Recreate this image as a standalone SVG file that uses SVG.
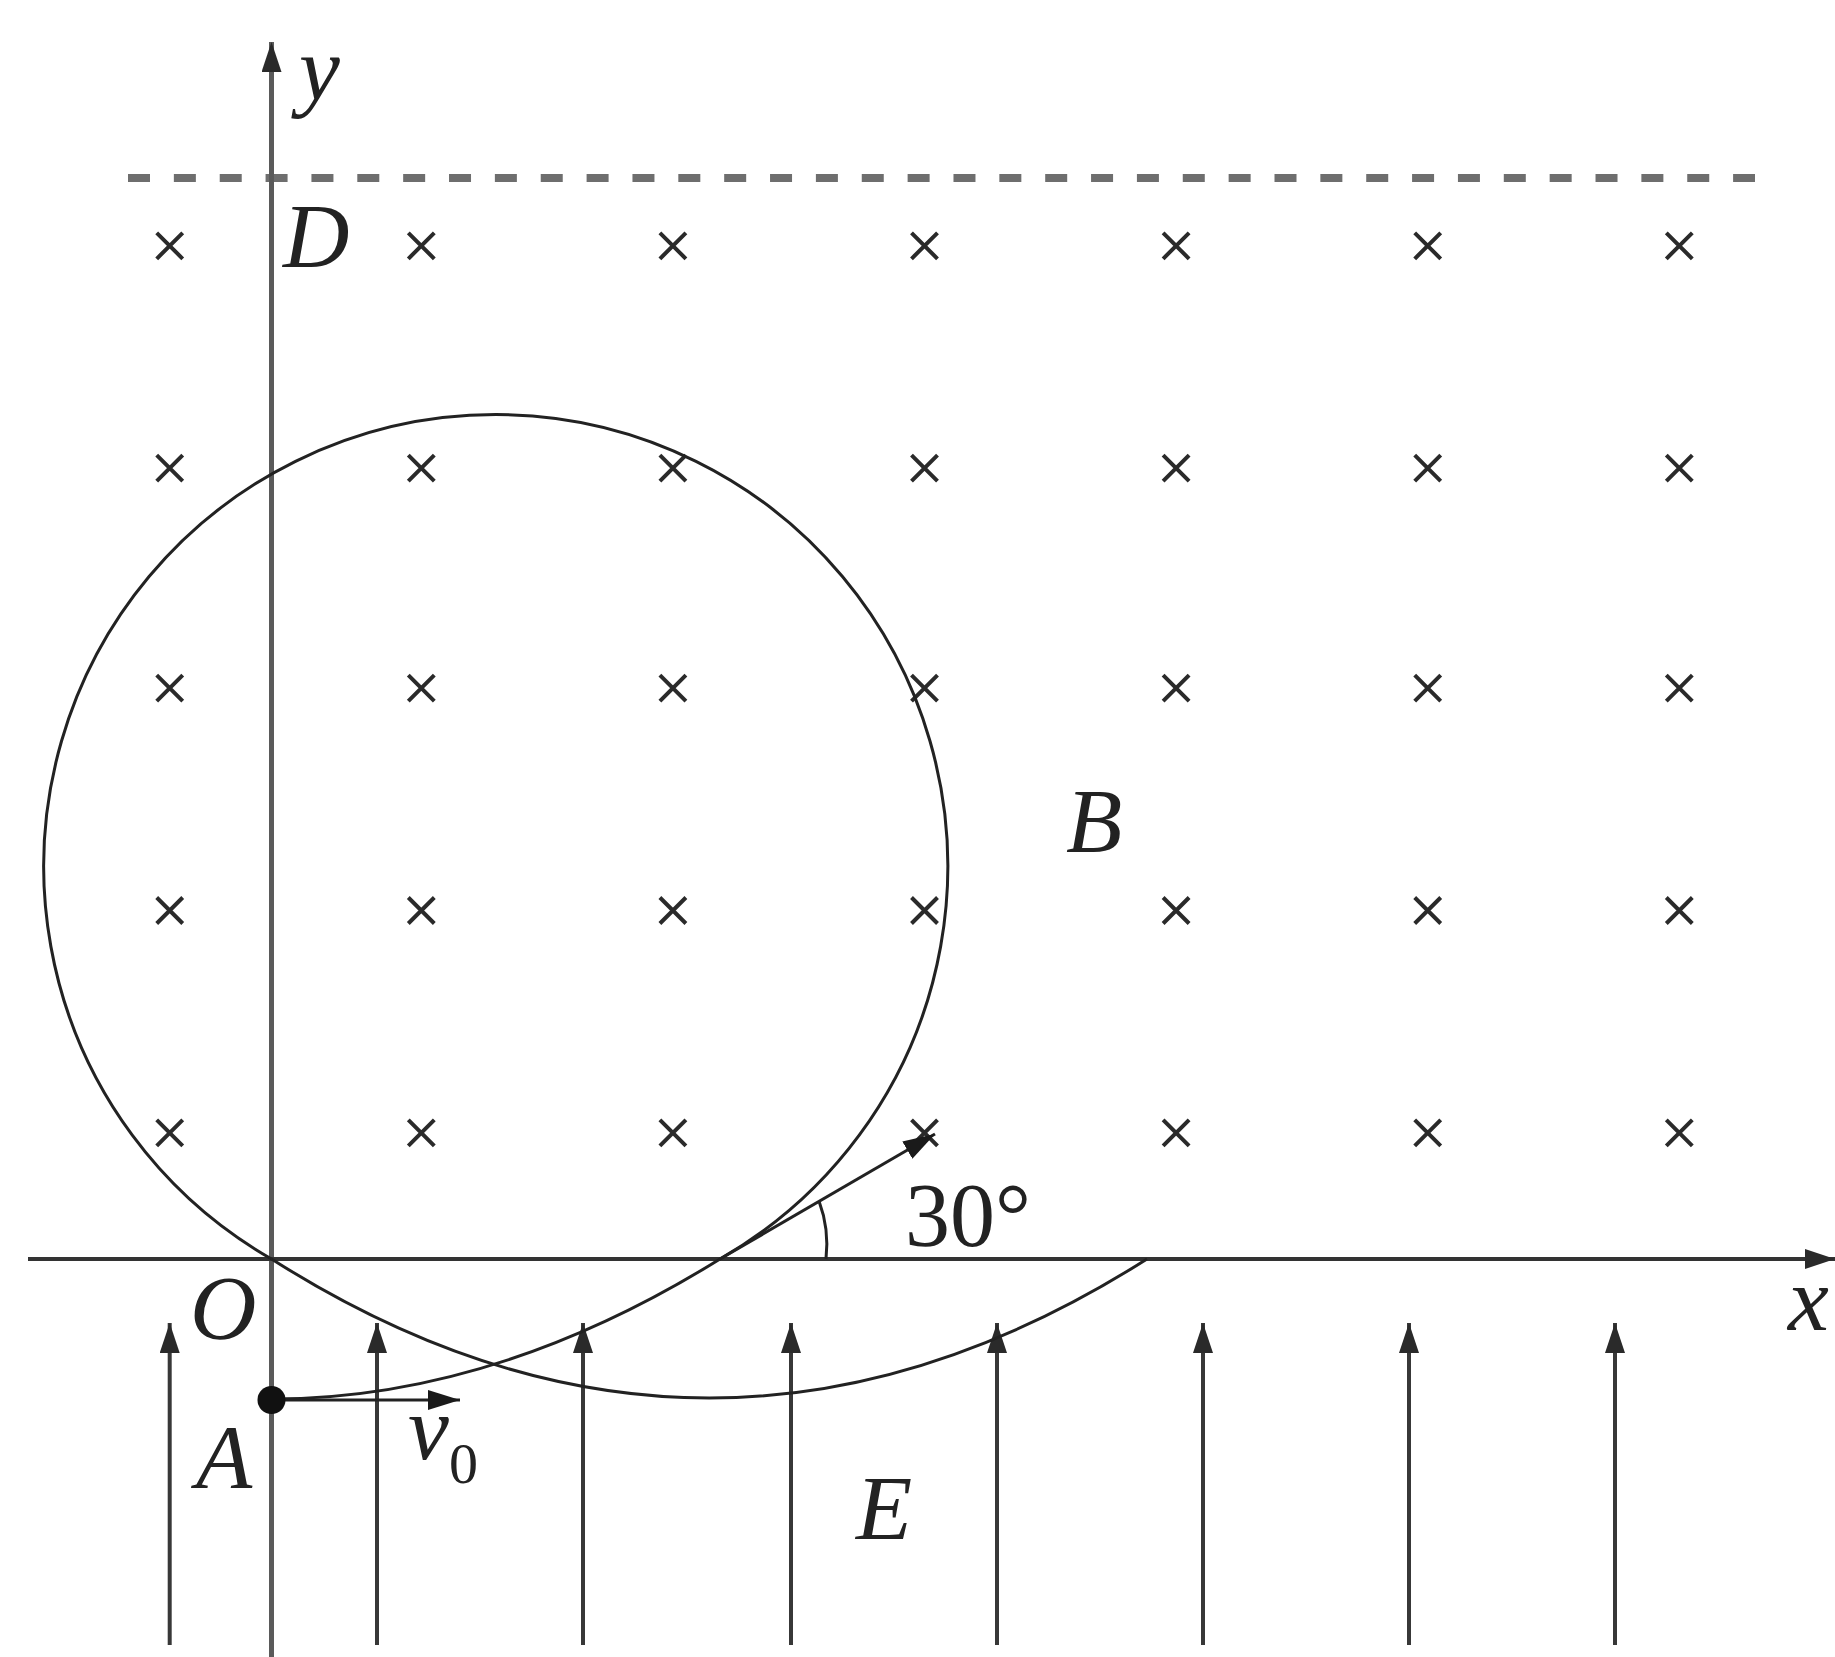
<svg xmlns="http://www.w3.org/2000/svg" xmlns:xlink="http://www.w3.org/1999/xlink" width="1835" height="1657" viewBox="0 0 1835 1657">
<style>
.axis{stroke:#333;stroke-width:4;fill:none}
.yaxis{stroke:#5a5a5a;stroke-width:5;fill:none}
.efield{stroke:#383838;stroke-width:4;fill:none}
.traj{stroke:#222;stroke-width:3;fill:none}
.cross{stroke:#2a2a2a;stroke-width:4;fill:none}
.lbl{font-family:"Liberation Serif","Times New Roman",serif;font-style:italic;font-size:92px;fill:#222}
.num{font-family:"Liberation Serif","Times New Roman",serif;font-size:90px;fill:#222}
.sub{font-family:"Liberation Serif","Times New Roman",serif;font-size:58px;fill:#222}
</style>
<defs>
<marker id="ah" viewBox="0 0 30 20" refX="30" refY="10" markerWidth="30" markerHeight="20" markerUnits="userSpaceOnUse" orient="auto">
<path d="M0,0 L30,10 L0,20 Z" fill="#2a2a2a"/>
</marker>
<marker id="ahs" viewBox="0 0 32 20" refX="32" refY="10" markerWidth="32" markerHeight="20" markerUnits="userSpaceOnUse" orient="auto">
<path d="M0,0 L32,10 L0,20 Z" fill="#1a1a1a"/>
</marker>
<path id="x" class="cross" d="M-13,-13 L13,13 M13,-13 L-13,13"/>
</defs>
<rect width="1835" height="1657" fill="#fff"/>

<g id="boundary">
<line x1="128" y1="178" x2="1755" y2="178" stroke="#6e6e6e" stroke-width="8" stroke-dasharray="22 23.86"/>
</g>

<g id="magnetic-field">
<use xlink:href="#x" x="169.7" y="245.8"/><use xlink:href="#x" x="421.3" y="245.8"/><use xlink:href="#x" x="672.9" y="245.8"/><use xlink:href="#x" x="924.5" y="245.8"/><use xlink:href="#x" x="1176.1" y="245.8"/><use xlink:href="#x" x="1427.7" y="245.8"/><use xlink:href="#x" x="1679.3" y="245.8"/>
<use xlink:href="#x" x="169.7" y="468.1"/><use xlink:href="#x" x="421.3" y="468.1"/><use xlink:href="#x" x="672.9" y="468.1"/><use xlink:href="#x" x="924.5" y="468.1"/><use xlink:href="#x" x="1176.1" y="468.1"/><use xlink:href="#x" x="1427.7" y="468.1"/><use xlink:href="#x" x="1679.3" y="468.1"/>
<use xlink:href="#x" x="169.7" y="688.1"/><use xlink:href="#x" x="421.3" y="688.1"/><use xlink:href="#x" x="672.9" y="688.1"/><use xlink:href="#x" x="924.5" y="688.1"/><use xlink:href="#x" x="1176.1" y="688.1"/><use xlink:href="#x" x="1427.7" y="688.1"/><use xlink:href="#x" x="1679.3" y="688.1"/>
<use xlink:href="#x" x="169.7" y="910.5"/><use xlink:href="#x" x="421.3" y="910.5"/><use xlink:href="#x" x="672.9" y="910.5"/><use xlink:href="#x" x="924.5" y="910.5"/><use xlink:href="#x" x="1176.1" y="910.5"/><use xlink:href="#x" x="1427.7" y="910.5"/><use xlink:href="#x" x="1679.3" y="910.5"/>
<use xlink:href="#x" x="169.7" y="1132.8"/><use xlink:href="#x" x="421.3" y="1132.8"/><use xlink:href="#x" x="672.9" y="1132.8"/><use xlink:href="#x" x="924.5" y="1132.8"/><use xlink:href="#x" x="1176.1" y="1132.8"/><use xlink:href="#x" x="1427.7" y="1132.8"/><use xlink:href="#x" x="1679.3" y="1132.8"/>
</g>

<g id="electric-field">
<line class="efield" x1="169.7" y1="1645" x2="169.7" y2="1323" marker-end="url(#ah)"/>
<line class="efield" x1="377" y1="1645" x2="377" y2="1323" marker-end="url(#ah)"/>
<line class="efield" x1="583" y1="1645" x2="583" y2="1323" marker-end="url(#ah)"/>
<line class="efield" x1="791" y1="1645" x2="791" y2="1323" marker-end="url(#ah)"/>
<line class="efield" x1="997" y1="1645" x2="997" y2="1323" marker-end="url(#ah)"/>
<line class="efield" x1="1203" y1="1645" x2="1203" y2="1323" marker-end="url(#ah)"/>
<line class="efield" x1="1409" y1="1645" x2="1409" y2="1323" marker-end="url(#ah)"/>
<line class="efield" x1="1615" y1="1645" x2="1615" y2="1323" marker-end="url(#ah)"/>
</g>

<g id="axes">
<line class="yaxis" x1="271.5" y1="1657" x2="271.5" y2="42" marker-end="url(#ah)"/>
<line class="axis" x1="28" y1="1259" x2="1835" y2="1259" marker-end="url(#ah)"/>
</g>

<g id="trajectory">
<path class="traj" d="M271.5,1399 Q494.75,1399 720,1259"/>
<path class="traj" d="M720,1259 A452,452 0 1 0 271.5,1259"/>
<path class="traj" d="M271.5,1259 Q709,1537 1147,1259"/>
</g>

<g id="vectors">
<line class="traj" x1="271.5" y1="1400" x2="460" y2="1400" marker-end="url(#ahs)"/>
<circle cx="271.5" cy="1400" r="14" fill="#111"/>
<line class="traj" x1="720" y1="1259" x2="935" y2="1134" marker-end="url(#ahs)"/>
<path class="traj" d="M826,1259 A125,125 0 0 0 819,1201"/>
</g>

<g id="labels">
<text class="lbl" x="299" y="100">y</text>
<text class="lbl" x="283" y="267">D</text>
<text class="lbl" x="190" y="1339">O</text>
<text class="lbl" x="196" y="1488">A</text>
<text class="lbl" x="408" y="1459">v</text>
<text class="sub" x="449" y="1483">0</text>
<text class="lbl" x="856" y="1539">E</text>
<text class="lbl" x="1066" y="852">B</text>
<text class="num" x="905" y="1246">30°</text>
<text class="lbl" x="1788" y="1330">x</text>
</g>
</svg>
